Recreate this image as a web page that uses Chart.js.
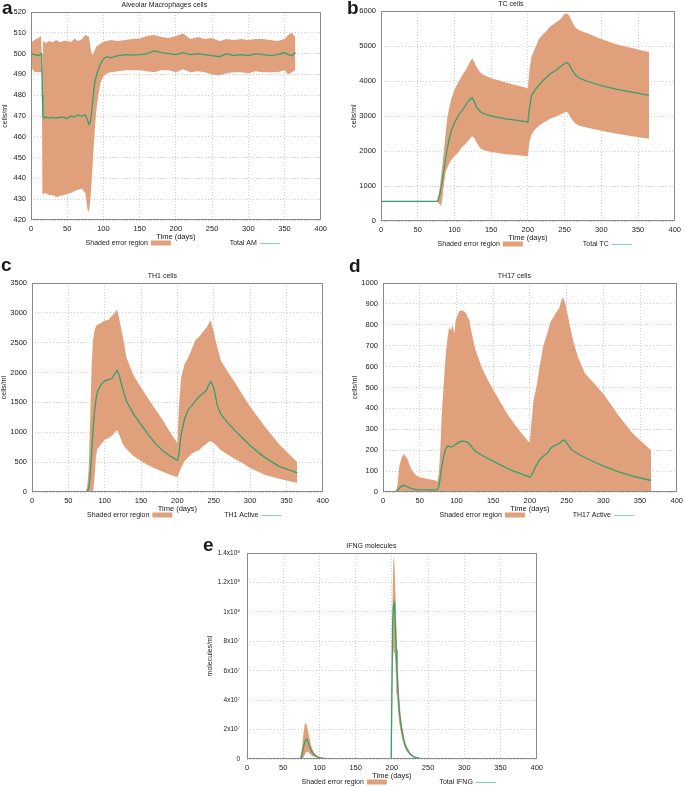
<!DOCTYPE html>
<html><head><meta charset="utf-8">
<script src="https://cdn.jsdelivr.net/npm/chart.js@4.4.1/dist/chart.umd.min.js"></script>
<style>
html,body{margin:0;padding:0;background:#fff;overflow:hidden;width:685px;height:787px;position:relative}
canvas{position:absolute}
</style></head><body>
<canvas id="pa"></canvas><canvas id="pb"></canvas><canvas id="pc"></canvas><canvas id="pd"></canvas><canvas id="pe"></canvas>
<script>
// ---------- DATA ----------
const xTicksMax = 400;
// (a) Alveolar Macrophages
const amDays = [0,5,10,14,15,15.6,16.5,18,20,25,30,35,40,45,50,55,60,65,70,75,78,80,82,84,86,88,90,93,96,100,105,110,120,130,140,150,160,170,180,190,200,210,220,230,240,250,260,270,280,290,300,310,320,330,340,350,355,360,365];
const amMean = [499.8,499.5,499,500,498,480,470,469,469.5,469,469.3,469,469.5,469.3,468.8,470,469.5,470.5,469.8,470.5,468,466,467,473,480,486,489,492.5,495,497.5,498.5,498,499,499.5,499.3,499.5,500,501.3,500.5,500,499.5,500.5,499.5,500,499.5,499,498.5,500,499,499.5,499,500,499.5,499,499.5,500.5,499.5,499,500.5];
const amHigh = [505.5,506.5,507.5,508.5,508.5,492,505.5,506,505,506,505.5,506.5,505.5,506,506.2,505.5,507.3,506,506.9,508.9,508.5,508.1,503.3,499.3,500,501.5,503.3,504,504.9,505.7,506,506.5,506,506.5,507,507.3,508.5,509,508,507.5,508.5,509.7,507,508,507,507.5,506,507,506.5,507,506.5,507,507,506.5,506,507,509,510,508];
const amLow = [493.5,491,491,491,491,440,432.8,432.5,433,432,432,431,431.5,432,432.5,433,434,434.5,435,433,425,424,430,440,452,463,472,480,486,489,490.5,491,491.5,492,492,492,491.5,491,492,492,491,492.5,491,491.5,491,490,489.5,490.5,491,491,490.5,491.5,491,491,491,492,490,491,492];
// (b) TC cells
const tcDays = [0,20,40,60,76,78,80,82,84,86,88,90,93,96,100,105,110,115,120,124,127,130,135,140,150,160,170,180,190,199,200,202,205,210,215,220,225,230,240,245,250,253,256,260,265,270,280,300,320,340,365];
const tcMean = [560,560,560,560,560,600,750,950,1200,1500,1800,2050,2350,2600,2800,3000,3150,3300,3450,3520,3420,3250,3130,3070,3000,2960,2920,2890,2860,2830,2820,3200,3580,3750,3880,4000,4100,4200,4330,4420,4500,4530,4480,4320,4170,4080,4000,3870,3770,3690,3590];
const tcHigh = [560,560,560,560,560,700,950,1300,1700,2100,2500,2900,3250,3500,3750,3950,4150,4300,4500,4650,4550,4400,4250,4170,4080,4020,3960,3900,3850,3800,3780,4300,4700,4950,5200,5320,5420,5550,5700,5780,5920,5930,5880,5700,5520,5450,5370,5200,5050,4950,4830];
const tcLow = [560,560,560,560,560,520,470,430,700,1100,1400,1500,1650,1750,1850,1950,2100,2200,2320,2420,2380,2250,2080,2020,1970,1940,1910,1890,1870,1850,1840,2250,2480,2620,2720,2790,2850,2920,3000,3050,3100,3120,3050,2900,2780,2720,2670,2580,2500,2430,2350];
// (c) TH1 cells
const th1Days = [0,74,76,78,80,82,84,86,88,90,95,100,105,110,114,117,120,125,130,140,150,160,170,180,190,200,202,205,210,215,220,225,230,235,240,243,246,250,255,260,270,280,290,300,320,340,365];
const th1Mean = [0,0,10,60,250,650,1050,1350,1550,1680,1800,1860,1880,1900,1980,2040,1950,1720,1520,1300,1130,960,810,690,600,530,620,950,1230,1380,1450,1530,1600,1650,1700,1790,1850,1750,1450,1300,1150,1020,900,780,580,430,320];
const th1High = [0,0,100,400,1200,2100,2550,2700,2780,2800,2830,2870,2880,2950,3000,3060,2900,2600,2250,1950,1750,1560,1380,1200,1000,820,1400,1900,2150,2250,2400,2550,2600,2680,2750,2820,2870,2680,2420,2200,2000,1820,1620,1430,1100,800,500];
const th1Low = [0,0,0,0,0,0,0,250,600,720,800,880,900,940,1000,1040,960,800,720,600,520,450,390,340,290,250,300,400,520,580,640,680,700,760,810,840,850,820,760,700,620,550,480,400,290,220,150];
// (d) TH17 cells (lower bound of shaded region is 0)
const th17Days = [15,18,20,22,25,28,30,33,36,40,45,50,60,70,74,76,78,80,82,84,86,88,90,92,95,97,99,104,108,113,116,117,119,122,126,135,144,150,160,170,180,190,198,200,202,205,209,214,218,222,225,228,232,236,240,243,245,248,252,256,260,266,275,290,300,320,340,365];
const th17Mean = [0,3,10,18,27,32,30,25,20,15,12,11,10,10,11,25,70,120,160,190,210,220,218,216,217,222,228,240,243,241,236,232,225,210,195,175,158,148,130,112,97,84,74,70,80,100,130,158,170,182,190,208,220,225,232,242,249,245,225,205,195,182,165,140,125,97,76,55];
const th17High = [0,10,40,120,160,182,175,160,130,100,80,70,63,56,52,90,200,370,480,590,680,740,790,774,798,758,822,866,870,857,830,838,790,742,679,592,528,490,430,370,320,275,242,240,330,440,504,615,695,740,774,814,835,860,880,917,933,905,840,770,710,640,568,510,470,370,280,200];
// (e) IFNG molecules, values in units of 1e6 molecules/ml
const ifngUnit = 1e6;
const ifngDays = [0,72,74,76,78,80,82,84,86,88,90,93,96,100,105,110,120,130,150,199,200,201,202,203,204,205,206,207,208,210,212,214,216,218,220,225,230,240,250,300,365];
const ifngMean = [0,0,0.5,3,8,12,13.5,12,9,6.5,4.5,2.8,1.7,1,0.5,0.25,0.1,0.05,0,0,0,92,103,106,100,88,74,60,50,34,25,19,14,10,7.5,3.5,1.5,0.3,0.05,0,0];
const ifngHigh = [0,0,2,8,18,24.5,24,20,15,10,7,4,2.5,1.4,0.7,0.35,0.15,0.06,0,0,0,110,134,138,128,112,95,78,65,44,31,23,17,12,9,4,1.8,0.4,0.07,0,0];
const ifngLow = [0,0,0,0,1,3,5,5,4,3,2,1.5,1,0.6,0.3,0.15,0.05,0.03,0,0,0,60,72,76,72,64,54,44,36,25,19,14,10.5,7.5,5.5,2.8,1.2,0.2,0.03,0,0];

// ---------- STYLE / LAYOUT ----------
const FONT = '"Liberation Sans", Arial, Helvetica, sans-serif';
const SALMON = 'rgb(225,160,124)';
const GREEN = '#35a06c';
const LEGEND_GREEN = '#7fd3b5';
const TEXT = '#1a1a1a';
const ML = 60, MT = 30, MR = 8, MB = 30, XH = 12;

const supers = {7:'\u2077', 8:'\u2078'};
function sciTick(v){
  if (v === 0) return '0';
  const e = v >= 1e8 ? 8 : 7;
  const m = +(v / Math.pow(10, e)).toFixed(1);
  return m + 'x10' + supers[e];
}

const PANELS = [
  {id:'pa', L:31, T:12, R:323, B:220, yW:31, tickPad:5, yMin:420, yMax:520, yStep:10,
   title:'Alveolar Macrophages cells', titleDx:-11.5, yTitle:'cells/ml', yTitleX:5.5,
   letter:'a', letterX:2, letterY:14, meanLabel:'Total AM',
   days:amDays, mean:amMean, high:amHigh, low:amLow},
  {id:'pb', L:381, T:11, R:677, B:221, yW:31, tickPad:5, yMin:0, yMax:6000, yStep:1000,
   title:'TC cells', titleDx:-17, yTitle:'cells/ml', yTitleX:354,
   letter:'b', letterX:347, letterY:14, meanLabel:'Total TC',
   days:tcDays, mean:tcMean, high:tcHigh, low:tcLow},
  {id:'pc', L:32, T:283, R:325, B:492, yW:31, tickPad:5, yMin:0, yMax:3500, yStep:500,
   title:'TH1 cells', titleDx:-15, yTitle:'cells/ml', yTitleX:4.5,
   letter:'c', letterX:1, letterY:271, meanLabel:'TH1 Active',
   days:th1Days, mean:th1Mean, high:th1High, low:th1Low},
  {id:'pd', L:383, T:283, R:679, B:492, yW:31, tickPad:5, yMin:0, yMax:1000, yStep:100,
   title:'TH17 cells', titleDx:-15.5, yTitle:'cells/ml', yTitleX:355,
   letter:'d', letterX:349, letterY:272, meanLabel:'TH17 Active',
   days:th17Days, mean:th17Mean, high:th17High, low:null},
  {id:'pe', L:247, T:553, R:539, B:759, yW:52, tickPad:7, yMin:0, yMax:1.4e8, yStep:2e7, yTickSize:6.5,
   title:'IFNG molecules', titleDx:-20.5, yTitle:'molecules/ml', yTitleX:210,
   letter:'e', letterX:203, letterY:551, meanLabel:'Total IFNG', sci:true, scale:ifngUnit,
   days:ifngDays, mean:ifngMean, high:ifngHigh, low:ifngLow}
];

const decor = {
  id: 'decor',
  afterDraw(chart, args, o) {
    const p = o.panel;
    const ox = p.L - ML, oy = p.T - MT;
    const {ctx, chartArea: a} = chart;
    ctx.save();
    ctx.strokeStyle = '#8a8a8a';
    ctx.lineWidth = 1;
    ctx.setLineDash([]);
    ctx.strokeRect(Math.round(a.left) + 0.5, Math.round(a.top) + 0.5, Math.round(a.right - a.left) - 1, Math.round(a.bottom - a.top) - 1);
    const cx = (a.left + a.right) / 2;
    ctx.fillStyle = TEXT;
    ctx.textBaseline = 'middle';
    ctx.font = '7px ' + FONT;
    ctx.textAlign = 'center';
    ctx.fillText(p.title, cx + p.titleDx, a.top - 7);
    ctx.font = '7.5px ' + FONT;
    ctx.fillText('Time (days)', cx, a.bottom + 17);
    const ly = a.bottom + 23;
    ctx.font = '7px ' + FONT;
    ctx.textAlign = 'right';
    ctx.fillText('Shaded error region', cx - 28, ly);
    ctx.fillStyle = SALMON;
    ctx.fillRect(cx - 25, ly - 2.5, 20, 5);
    ctx.fillStyle = TEXT;
    ctx.fillText(p.meanLabel, cx + 81, ly);
    ctx.strokeStyle = LEGEND_GREEN;
    ctx.lineWidth = 1;
    ctx.beginPath(); ctx.moveTo(cx + 84, Math.round(ly) + 0.5); ctx.lineTo(cx + 104, Math.round(ly) + 0.5); ctx.stroke();
    ctx.save();
    ctx.translate(p.yTitleX - ox, (a.top + a.bottom) / 2);
    ctx.rotate(-Math.PI / 2);
    ctx.textAlign = 'center';
    ctx.font = '7px ' + FONT;
    ctx.fillText(p.yTitle, 0, 0);
    ctx.restore();
    ctx.font = 'bold 19px ' + FONT;
    ctx.textAlign = 'left';
    ctx.textBaseline = 'alphabetic';
    ctx.fillText(p.letter, p.letterX - ox, p.letterY - oy);
    ctx.restore();
  }
};

PANELS.forEach(p => {
  const cv = document.getElementById(p.id);
  const W = p.R - p.L + ML + MR, H = p.B - p.T + MT + MB;
  cv.width = W; cv.height = H;
  cv.style.left = (p.L - ML) + 'px';
  cv.style.top = (p.T - MT) + 'px';
  cv.style.width = W + 'px'; cv.style.height = H + 'px';
  const k = p.scale || 1;
  const pts = arr => p.days.map((d, i) => ({x: d, y: arr[i] * k}));
  const datasets = [
    {label: p.meanLabel, data: pts(p.mean), borderColor: GREEN, borderWidth: 1.3, pointRadius: 0, fill: false, tension: 0},
    {label: 'Shaded error region', data: pts(p.high), borderWidth: 0, borderColor: 'rgba(0,0,0,0)', backgroundColor: SALMON,
     pointRadius: 0, fill: p.low ? '+1' : 'origin', tension: 0}
  ];
  if (p.low) datasets.push({label: 'low', data: pts(p.low), borderWidth: 0, borderColor: 'rgba(0,0,0,0)', pointRadius: 0, fill: false, tension: 0});
  new Chart(cv, {
    type: 'line',
    data: {datasets},
    plugins: [decor],
    options: {
      responsive: false, animation: false, devicePixelRatio: 1, events: [],
      layout: {padding: {left: ML - p.yW, top: MT, right: MR, bottom: MB - XH}},
      plugins: {legend: {display: false}, tooltip: {enabled: false}, title: {display: false}, decor: {panel: p}},
      scales: {
        x: {type: 'linear', min: 0, max: xTicksMax,
            ticks: {stepSize: 50, padding: 4, color: TEXT, font: {family: FONT, size: 7.5}, maxRotation: 0, autoSkip: false},
            grid: {color: '#cdcdcd', drawTicks: false, lineWidth: 1},
            border: {display: false, dash: [1, 2]},
            afterFit: s => { s.height = XH; }},
        y: {type: 'linear', min: p.yMin, max: p.yMax,
            ticks: {stepSize: p.yStep, padding: p.tickPad, color: TEXT, font: {family: FONT, size: p.yTickSize || 7.5},
                    callback: v => p.sci ? sciTick(v) : String(v)},
            grid: {color: '#cdcdcd', drawTicks: false, lineWidth: 1},
            border: {display: false, dash: [1, 2]},
            afterFit: s => { s.width = p.yW; }}
      }
    }
  });
});
</script>
</body></html>
